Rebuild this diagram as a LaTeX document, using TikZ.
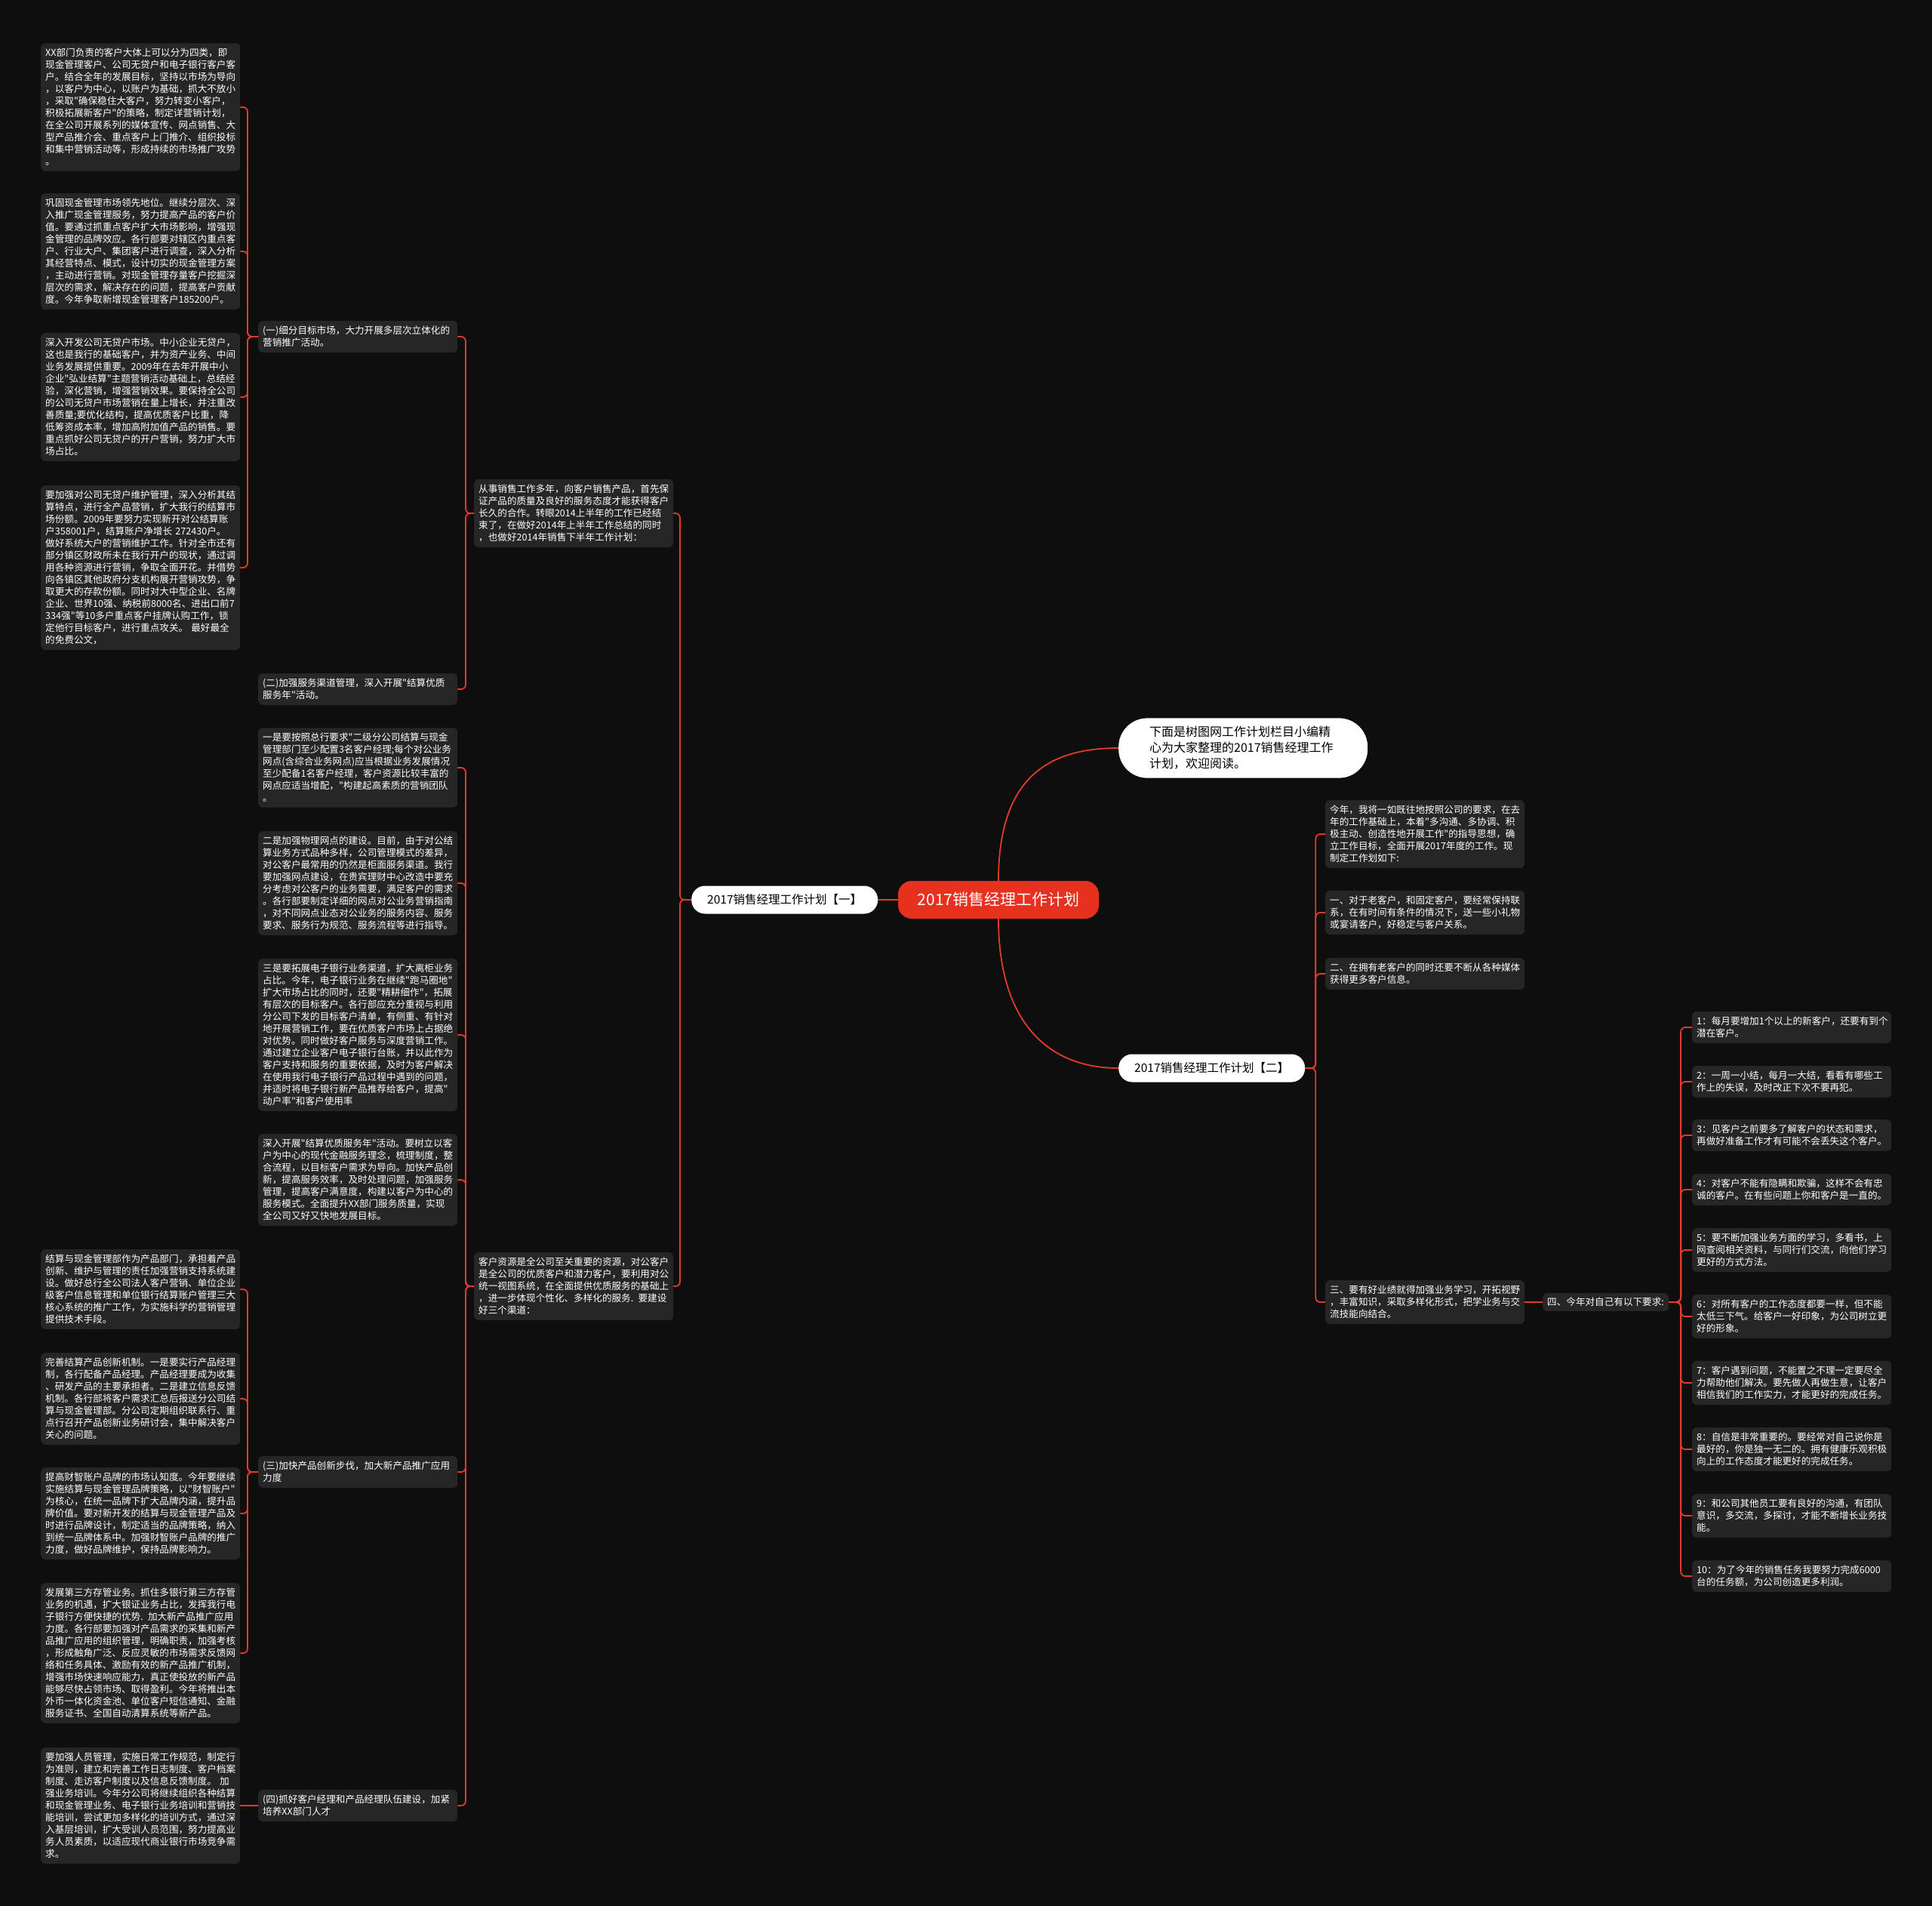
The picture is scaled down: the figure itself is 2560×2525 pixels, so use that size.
\documentclass[tikz,border=0pt]{standalone}
\usepackage{fontspec}
\newfontfamily\cjk{Noto Sans CJK SC}
\definecolor{bgdark}{HTML}{0E0E0E}
\definecolor{cardgray}{HTML}{262626}
\definecolor{linkred}{HTML}{E23A2C}
\definecolor{rootred}{HTML}{E6311F}

\begin{document}
\begin{tikzpicture}[x=1pt, y=-1pt, font=\cjk,
  card/.style={fill=cardgray, text=white, rounded corners=6pt, anchor=west,
               text width=252pt, align=left, inner xsep=6pt, inner ysep=7pt,
               font=\cjk\fontsize{12.6}{16}\selectfont},
  tag/.style={fill=cardgray, text=white, rounded corners=5pt, anchor=west,
              inner xsep=6pt, inner ysep=6pt, font=\cjk\fontsize{12.6}{16}\selectfont},
  branch/.style={fill=white, text=black, rounded corners=18pt, anchor=west,
                 inner xsep=21pt, minimum height=37pt, font=\cjk\fontsize{15.5}{18}\selectfont},
  intro/.style={fill=white, text=black, rounded corners=38pt, anchor=west,
                text width=248pt, align=left, inner xsep=41pt, inner ysep=11pt,
                font=\cjk\fontsize{16}{21}\selectfont},
  root/.style={fill=rootred, text=white, rounded corners=18pt, minimum width=266pt,
               minimum height=50pt, font=\cjk\fontsize{21}{24}\selectfont},
  link/.style={draw=linkred, line width=1.8pt, rounded corners=6pt}]
  \useasboundingbox (0,0) rectangle (2560,2525);
  \fill[bgdark] (0,0) rectangle (2560,2525);

  % Centre and first level
  \node[root] (root) at (1323,1192) {2017销售经理工作计划};
  \node[branch] (planone) at (916,1192) {2017销售经理工作计划【一】};
  \node[branch] (plantwo) at (1482,1415) {2017销售经理工作计划【二】};
  \node[intro] (intro) at (1482,991) {下面是树图网工作计划栏目小编精\\心为大家整理的2017销售经理工作\\计划，欢迎阅读。};

  % Plan one - second level
  \node[card] (sales) at (628,680) {从事销售工作多年，向客户销售产品，首先保\\证产品的质量及良好的服务态度才能获得客户\\长久的合作。转眼2014上半年的工作已经结\\束了，在做好2014年上半年工作总结的同时\\，也做好2014年销售下半年工作计划：};
  \node[card] (resource) at (628,1704) {客户资源是全公司至关重要的资源，对公客户\\是全公司的优质客户和潜力客户，要利用对公\\统一视图系统，在全面提供优质服务的基础上\\，进一步体现个性化、多样化的服务. 要建设\\好三个渠道：};

  % Plan one - third level
  \node[card] (segone) at (342,446) {(一)细分目标市场，大力开展多层次立体化的\\营销推广活动。};
  \node[card] (segtwo) at (342,913) {(二)加强服务渠道管理，深入开展"结算优质\\服务年"活动。};
  \node[card] (chanone) at (342,1017) {一是要按照总行要求"二级分公司结算与现金\\管理部门至少配置3名客户经理;每个对公业务\\网点(含综合业务网点)应当根据业务发展情况\\至少配备1名客户经理，客户资源比较丰富的\\网点应适当增配，"构建起高素质的营销团队\\。};
  \node[card] (chantwo) at (342,1170) {二是加强物理网点的建设。目前，由于对公结\\算业务方式品种多样，公司管理模式的差异，\\对公客户最常用的仍然是柜面服务渠道。我行\\要加强网点建设，在贵宾理财中心改造中要充\\分考虑对公客户的业务需要，满足客户的需求\\。各行部要制定详细的网点对公业务营销指南\\，对不同网点业态对公业务的服务内容、服务\\要求、服务行为规范、服务流程等进行指导。};
  \node[card] (chanthree) at (342,1371) {三是要拓展电子银行业务渠道，扩大离柜业务\\占比。今年，电子银行业务在继续"跑马圈地"\\扩大市场占比的同时，还要"精耕细作"，拓展\\有层次的目标客户。各行部应充分重视与利用\\分公司下发的目标客户清单，有侧重、有针对\\地开展营销工作，要在优质客户市场上占据绝\\对优势。同时做好客户服务与深度营销工作。\\通过建立企业客户电子银行台账，并以此作为\\客户支持和服务的重要依据，及时为客户解决\\在使用我行电子银行产品过程中遇到的问题，\\并适时将电子银行新产品推荐给客户，提高"\\动户率"和客户使用率};
  \node[card] (serviceyear) at (342,1563) {深入开展"结算优质服务年"活动。要树立以客\\户为中心的现代金融服务理念，梳理制度，整\\合流程，以目标客户需求为导向。加快产品创\\新，提高服务效率，及时处理问题，加强服务\\管理，提高客户满意度，构建以客户为中心的\\服务模式。全面提升XX部门服务质量，实现\\全公司又好又快地发展目标。};
  \node[card] (segthree) at (342,1950) {(三)加快产品创新步伐，加大新产品推广应用\\力度};
  \node[card] (segfour) at (342,2392) {(四)抓好客户经理和产品经理队伍建设，加紧\\培养XX部门人才};

  % Plan one - leaves on the far left
  \node[card] (mktone) at (54,142) {XX部门负责的客户大体上可以分为四类，即\\现金管理客户、公司无贷户和电子银行客户客\\户。结合全年的发展目标，坚持以市场为导向\\，以客户为中心，以账户为基础，抓大不放小\\，采取"确保稳住大客户，努力转变小客户，\\积极拓展新客户"的策略，制定详营销计划，\\在全公司开展系列的媒体宣传、网点销售、大\\型产品推介会、重点客户上门推介、组织投标\\和集中营销活动等，形成持续的市场推广攻势\\。};
  \node[card] (mkttwo) at (54,333) {巩固现金管理市场领先地位。继续分层次、深\\入推广现金管理服务，努力提高产品的客户价\\值。要通过抓重点客户扩大市场影响，增强现\\金管理的品牌效应。各行部要对辖区内重点客\\户、行业大户、集团客户进行调查，深入分析\\其经营特点、模式，设计切实的现金管理方案\\，主动进行营销。对现金管理存量客户挖掘深\\层次的需求，解决存在的问题，提高客户贡献\\度。今年争取新增现金管理客户185200户。};
  \node[card] (mktthree) at (54,526) {深入开发公司无贷户市场。中小企业无贷户，\\这也是我行的基础客户，并为资产业务、中间\\业务发展提供重要。2009年在去年开展中小\\企业"弘业结算"主题营销活动基础上，总结经\\验，深化营销，增强营销效果。要保持全公司\\的公司无贷户市场营销在量上增长，并注重改\\善质量;要优化结构，提高优质客户比重，降\\低筹资成本率，增加高附加值产品的销售。要\\重点抓好公司无贷户的开户营销，努力扩大市\\场占比。};
  \node[card] (mktfour) at (54,752) {要加强对公司无贷户维护管理，深入分析其结\\算特点，进行全产品营销，扩大我行的结算市\\场份额。2009年要努力实现新开对公结算账\\户358001户，结算账户净增长 272430户。\\做好系统大户的营销维护工作。针对全市还有\\部分镇区财政所未在我行开户的现状，通过调\\用各种资源进行营销，争取全面开花。并借势\\向各镇区其他政府分支机构展开营销攻势，争\\取更大的存款份额。同时对大中型企业、名牌\\企业、世界10强、纳税前8000名、进出口前7\\334强"等10多户重点客户挂牌认购工作，锁\\定他行目标客户，进行重点攻关。 最好最全\\的免费公文，};
  \node[card] (prodone) at (54,1708) {结算与现金管理部作为产品部门，承担着产品\\创新、维护与管理的责任加强营销支持系统建\\设。做好总行全公司法人客户营销、单位企业\\级客户信息管理和单位银行结算账户管理三大\\核心系统的推广工作，为实施科学的营销管理\\提供技术手段。};
  \node[card] (prodtwo) at (54,1853) {完善结算产品创新机制。一是要实行产品经理\\制，各行配备产品经理。产品经理要成为收集\\、研发产品的主要承担者。二是建立信息反馈\\机制。各行部将客户需求汇总后报送分公司结\\算与现金管理部。分公司定期组织联系行、重\\点行召开产品创新业务研讨会，集中解决客户\\关心的问题。};
  \node[card] (prodthree) at (54,2005) {提高财智账户品牌的市场认知度。今年要继续\\实施结算与现金管理品牌策略，以"财智账户"\\为核心，在统一品牌下扩大品牌内涵，提升品\\牌价值。要对新开发的结算与现金管理产品及\\时进行品牌设计，制定适当的品牌策略，纳入\\到统一品牌体系中。加强财智账户品牌的推广\\力度，做好品牌维护，保持品牌影响力。};
  \node[card] (prodfour) at (54,2190) {发展第三方存管业务。抓住多银行第三方存管\\业务的机遇，扩大银证业务占比，发挥我行电\\子银行方便快捷的优势. 加大新产品推广应用\\力度。各行部要加强对产品需求的采集和新产\\品推广应用的组织管理，明确职责，加强考核\\，形成触角广泛、反应灵敏的市场需求反馈网\\络和任务具体、激励有效的新产品推广机制，\\增强市场快速响应能力，真正使投放的新产品\\能够尽快占领市场、取得盈利。今年将推出本\\外币一体化资金池、单位客户短信通知、金融\\服务证书、全国自动清算系统等新产品。};
  \node[card] (staff) at (54,2392) {要加强人员管理，实施日常工作规范，制定行\\为准则，建立和完善工作日志制度、客户档案\\制度、走访客户制度以及信息反馈制度。 加\\强业务培训。今年分公司将继续组织各种结算\\和现金管理业务、电子银行业务培训和营销技\\能培训，尝试更加多样化的培训方式，通过深\\入基层培训，扩大受训人员范围，努力提高业\\务人员素质，以适应现代商业银行市场竞争需\\求。};

  % Plan two
  \node[card] (thisyear) at (1756,1105) {今年，我将一如既往地按照公司的要求，在去\\年的工作基础上，本着"多沟通、多协调、积\\极主动、创造性地开展工作"的指导思想，确\\立工作目标，全面开展2017年度的工作。现\\制定工作划如下:};
  \node[card] (oldclient) at (1756,1209) {一、对于老客户，和固定客户，要经常保持联\\系，在有时间有条件的情况下，送一些小礼物\\或宴请客户，好稳定与客户关系。};
  \node[card] (media) at (1756,1290) {二、在拥有老客户的同时还要不断从各种媒体\\获得更多客户信息。};
  \node[card] (study) at (1756,1725) {三、要有好业绩就得加强业务学习，开拓视野\\，丰富知识，采取多样化形式，把学业务与交\\流技能向结合。};
  \node[tag] (demand) at (2044,1725) {四、今年对自己有以下要求:};

  % Plan two - requirements
  \node[card] (reqone) at (2242,1361) {1：每月要增加1个以上的新客户，还要有到个\\潜在客户。};
  \node[card] (reqtwo) at (2242,1433) {2：一周一小结，每月一大结，看看有哪些工\\作上的失误，及时改正下次不要再犯。};
  \node[card] (reqthree) at (2242,1504) {3：见客户之前要多了解客户的状态和需求，\\再做好准备工作才有可能不会丢失这个客户。};
  \node[card] (reqfour) at (2242,1576) {4：对客户不能有隐瞒和欺骗，这样不会有忠\\诚的客户。在有些问题上你和客户是一直的。};
  \node[card] (reqfive) at (2242,1656) {5：要不断加强业务方面的学习，多看书，上\\网查阅相关资料，与同行们交流，向他们学习\\更好的方式方法。};
  \node[card] (reqsix) at (2242,1744) {6：对所有客户的工作态度都要一样，但不能\\太低三下气。给客户一好印象，为公司树立更\\好的形象。};
  \node[card] (reqseven) at (2242,1832) {7：客户遇到问题，不能置之不理一定要尽全\\力帮助他们解决。要先做人再做生意，让客户\\相信我们的工作实力，才能更好的完成任务。};
  \node[card] (reqeight) at (2242,1920) {8：自信是非常重要的。要经常对自己说你是\\最好的，你是独一无二的。拥有健康乐观积极\\向上的工作态度才能更好的完成任务。};
  \node[card] (reqnine) at (2242,2008) {9：和公司其他员工要有良好的沟通，有团队\\意识，多交流，多探讨，才能不断增长业务技\\能。};
  \node[card] (reqten) at (2242,2088) {10：为了今年的销售任务我要努力完成6000\\台的任务额，为公司创造更多利润。};

  % Connectors
  \draw[link] (root.west) -- (planone.east);
  \draw[link] (root.north) to[out=90, in=180, out distance=135pt, in distance=95pt] (intro.west);
  \draw[link] (root.south) to[out=-90, in=180, out distance=135pt, in distance=95pt] (plantwo.west);

  \draw[link] (planone.west) -- ++(-15,0) |- (sales.east);
  \draw[link] (planone.west) -- ++(-15,0) |- (resource.east);
  \draw[link] (sales.west) -- ++(-11,0) |- (segone.east);
  \draw[link] (sales.west) -- ++(-11,0) |- (segtwo.east);
  \draw[link] (resource.west) -- ++(-11,0) |- (chanone.east);
  \draw[link] (resource.west) -- ++(-11,0) |- (chantwo.east);
  \draw[link] (resource.west) -- ++(-11,0) |- (chanthree.east);
  \draw[link] (resource.west) -- ++(-11,0) |- (serviceyear.east);
  \draw[link] (resource.west) -- ++(-11,0) |- (segthree.east);
  \draw[link] (resource.west) -- ++(-11,0) |- (segfour.east);
  \draw[link] (segone.west) -- ++(-14,0) |- (mktone.east);
  \draw[link] (segone.west) -- ++(-14,0) |- (mkttwo.east);
  \draw[link] (segone.west) -- ++(-14,0) |- (mktthree.east);
  \draw[link] (segone.west) -- ++(-14,0) |- (mktfour.east);
  \draw[link] (segthree.west) -- ++(-14,0) |- (prodone.east);
  \draw[link] (segthree.west) -- ++(-14,0) |- (prodtwo.east);
  \draw[link] (segthree.west) -- ++(-14,0) |- (prodthree.east);
  \draw[link] (segthree.west) -- ++(-14,0) |- (prodfour.east);
  \draw[link] (segfour.west) -- (staff.east);

  \draw[link] (plantwo.east) -- ++(14,0) |- (thisyear.west);
  \draw[link] (plantwo.east) -- ++(14,0) |- (oldclient.west);
  \draw[link] (plantwo.east) -- ++(14,0) |- (media.west);
  \draw[link] (plantwo.east) -- ++(14,0) |- (study.west);
  \draw[link] (study.east) -- (demand.west);
  \draw[link] (demand.east) -- ++(16,0) |- (reqone.west);
  \draw[link] (demand.east) -- ++(16,0) |- (reqtwo.west);
  \draw[link] (demand.east) -- ++(16,0) |- (reqthree.west);
  \draw[link] (demand.east) -- ++(16,0) |- (reqfour.west);
  \draw[link] (demand.east) -- ++(16,0) |- (reqfive.west);
  \draw[link] (demand.east) -- ++(16,0) |- (reqsix.west);
  \draw[link] (demand.east) -- ++(16,0) |- (reqseven.west);
  \draw[link] (demand.east) -- ++(16,0) |- (reqeight.west);
  \draw[link] (demand.east) -- ++(16,0) |- (reqnine.west);
  \draw[link] (demand.east) -- ++(16,0) |- (reqten.west);
\end{tikzpicture}
\end{document}
